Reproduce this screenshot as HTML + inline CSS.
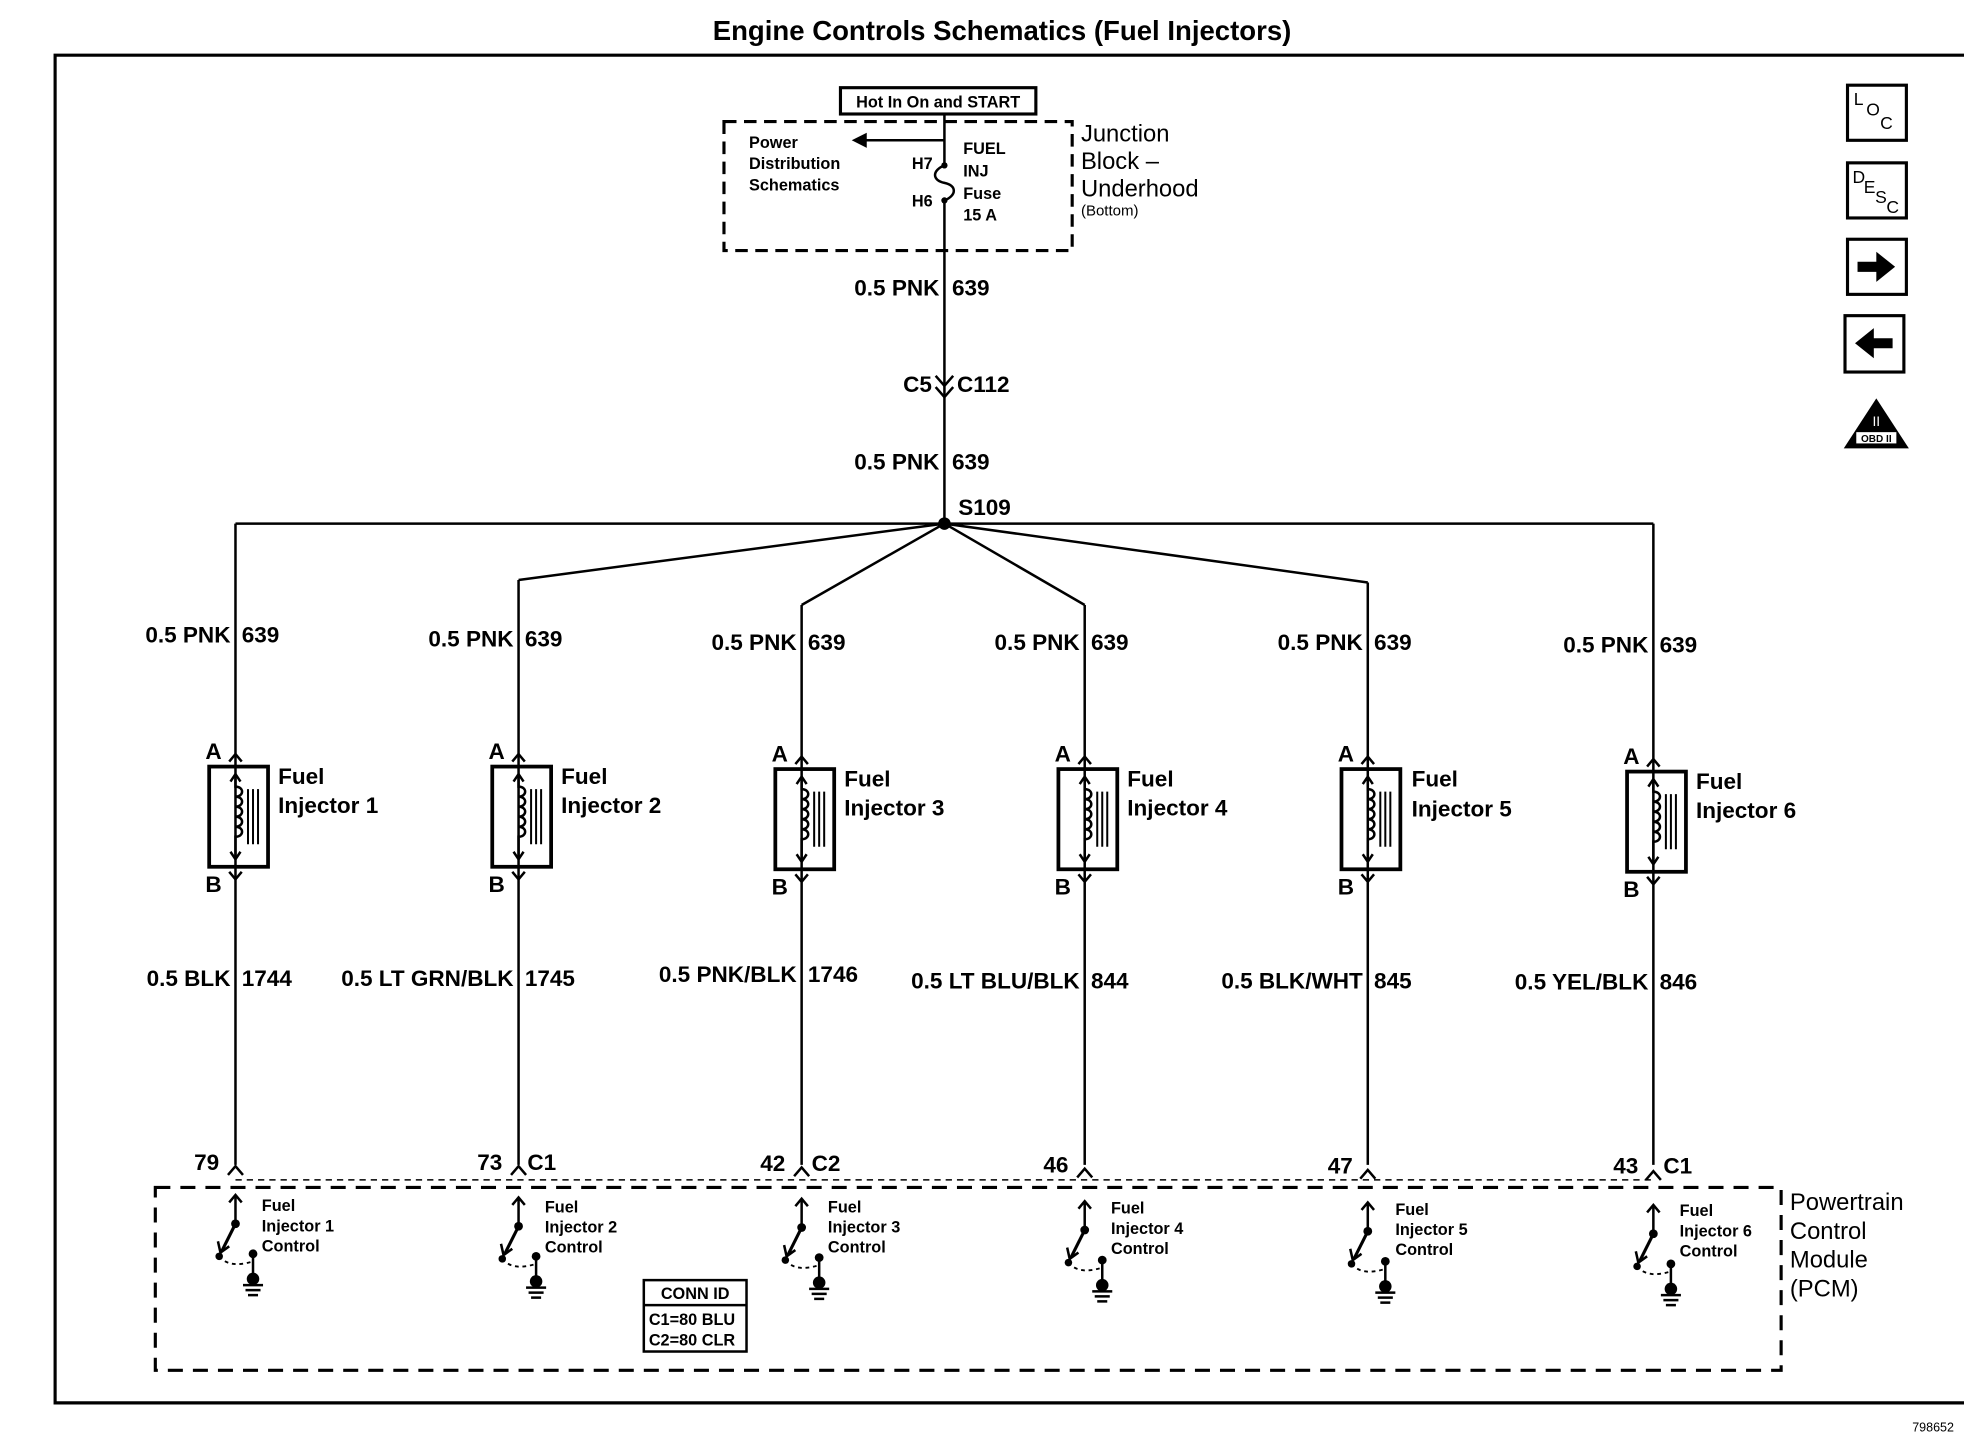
<!DOCTYPE html>
<html><head><meta charset="utf-8"><style>
html,body{margin:0;padding:0;background:#fff}
svg{display:block}
text{font-family:"Liberation Sans",Arial,sans-serif;fill:#000}
</style></head><body>
<svg width="1964" height="1456" viewBox="0 0 1568 1162.4" xmlns="http://www.w3.org/2000/svg">
<defs>
<g id="inj">
  <rect x="-21" y="0" width="47" height="80" fill="none" stroke="#000" stroke-width="3"/>
  <path d="M0,-10 V80 M0,80 V90" stroke="#000" stroke-width="2" fill="none"/>
  <path d="M-5,-4 L0,-10 L5,-4 M-5,84 L0,90 L5,84" stroke="#000" stroke-width="2" fill="none"/>
  <path d="M0,8 V16 c7,0 7,8 0,8 c7,0 7,8 0,8 c7,0 7,8 0,8 c7,0 7,8 0,8 c7,0 7,8 0,8 V72" stroke="#000" stroke-width="2" fill="none"/>
  <path d="M-4,12 L0,6 L4,12 M-4,68 L0,74 L4,68" stroke="#000" stroke-width="2" fill="none"/>
  <path d="M10,18 V62 M14,18 V62 M18,18 V62" stroke="#000" stroke-width="1.6"/>
</g>
<g id="sw">
  <path d="M-5,5 L0,-1 L5,5 M0,-1 V22" stroke="#000" stroke-width="2" fill="none"/>
  <circle cx="0" cy="22" r="3.5"/>
  <path d="M0,22 L-11,44" stroke="#000" stroke-width="2.5"/>
  <path d="M-14,36 L-12,45 L-5,40" stroke="#000" stroke-width="2" fill="none"/>
  <circle cx="-13" cy="48" r="3"/>
  <path d="M-13,48 Q-5,58 14,52" stroke="#000" stroke-width="1.5" stroke-dasharray="3,3" fill="none"/>
  <circle cx="14" cy="46" r="3.5"/>
  <path d="M14,46 V68" stroke="#000" stroke-width="2"/>
  <circle cx="14" cy="66" r="5"/>
  <path d="M6,71 H22 M8,75 H20 M10,79 H18" stroke="#000" stroke-width="2"/>
</g>
</defs>
<text x="800" y="32" font-size="22" font-weight="bold" text-anchor="middle">Engine Controls Schematics (Fuel Injectors)</text>
<path d="M1568,44 H44 V1120 H1568" fill="none" stroke="#000" stroke-width="2.5"/>
<text x="1560" y="1143" font-size="10" text-anchor="end">798652</text>

<!-- junction block -->
<rect x="671" y="70" width="156" height="21" fill="none" stroke="#000" stroke-width="2.5"/>
<text x="749" y="86" font-size="13" text-anchor="middle" font-weight="bold">Hot In On and START</text>
<rect x="578" y="97" width="278" height="103" fill="none" stroke="#000" stroke-width="2.5" stroke-dasharray="10,6"/>
<text font-size="13" font-weight="bold"><tspan x="598" y="118">Power</tspan><tspan x="598" y="135">Distribution</tspan><tspan x="598" y="152">Schematics</tspan></text>
<path d="M754,112 H690" stroke="#000" stroke-width="2"/>
<path d="M692,106 L680,112 L692,118 Z"/>
<text x="728" y="135" font-size="13" font-weight="bold">H7</text>
<text x="728" y="165" font-size="13" font-weight="bold">H6</text>
<text font-size="13" font-weight="bold"><tspan x="769" y="123">FUEL</tspan><tspan x="769" y="141">INJ</tspan><tspan x="769" y="159">Fuse</tspan><tspan x="769" y="176">15 A</tspan></text>
<path d="M754,91 V132 c-10,4 -10,12 0,14 c10,2 10,10 0,14 V418" stroke="#000" stroke-width="2" fill="none"/>
<circle cx="754" cy="132" r="2.5"/><circle cx="754" cy="160" r="2.5"/>
<text font-size="19"><tspan x="863" y="113">Junction</tspan><tspan x="863" y="135">Block –</tspan><tspan x="863" y="157">Underhood</tspan></text>
<text x="863" y="172" font-size="12">(Bottom)</text>

<text x="750" y="236" font-size="18" text-anchor="end" font-weight="bold">0.5 PNK</text><text x="760" y="236" font-size="18" font-weight="bold">639</text>
<path d="M747,300 L754,308 L761,300 M747,309 L754,317 L761,309" stroke="#000" stroke-width="2" fill="none"/>
<text x="744" y="313" font-size="18" text-anchor="end" font-weight="bold">C5</text><text x="764" y="313" font-size="18" font-weight="bold">C112</text>
<text x="750" y="375" font-size="18" text-anchor="end" font-weight="bold">0.5 PNK</text><text x="760" y="375" font-size="18" font-weight="bold">639</text>
<circle cx="754" cy="418" r="5"/>
<text x="765" y="411" font-size="18" font-weight="bold">S109</text>
<path d="M188,418 H1320 M754,418 L414,463 M754,418 L640,483 M754,418 L866,483 M754,418 L1092,465" stroke="#000" stroke-width="2" fill="none"/>

<g stroke="#000" stroke-width="2" fill="none">
<path d="M188,418 V930 M414,463 V930 M640,483 V930 M866,483 V930 M1092,465 V930 M1320,418 V930"/>
</g>
<g font-size="18" font-weight="bold">
<text x="184" y="513" text-anchor="end">0.5 PNK</text><text x="193" y="513">639</text>
<text x="410" y="516" text-anchor="end">0.5 PNK</text><text x="419" y="516">639</text>
<text x="636" y="519" text-anchor="end">0.5 PNK</text><text x="645" y="519">639</text>
<text x="862" y="519" text-anchor="end">0.5 PNK</text><text x="871" y="519">639</text>
<text x="1088" y="519" text-anchor="end">0.5 PNK</text><text x="1097" y="519">639</text>
<text x="1316" y="521" text-anchor="end">0.5 PNK</text><text x="1325" y="521">639</text>
</g>

<g fill="#fff">
<rect x="166" y="602" width="48" height="100"/><rect x="392" y="602" width="48" height="100"/><rect x="618" y="604" width="48" height="100"/><rect x="844" y="604" width="48" height="100"/><rect x="1070" y="604" width="48" height="100"/><rect x="1298" y="606" width="48" height="100"/>
</g>
<use href="#inj" x="188" y="612"/><use href="#inj" x="414" y="612"/><use href="#inj" x="640" y="614"/><use href="#inj" x="866" y="614"/><use href="#inj" x="1092" y="614"/><use href="#inj" x="1320" y="616"/>
<g font-size="18" font-weight="bold">
<text x="164" y="606">A</text><text x="164" y="712">B</text><text x="222" y="626">Fuel</text><text x="222" y="649">Injector 1</text>
<text x="390" y="606">A</text><text x="390" y="712">B</text><text x="448" y="626">Fuel</text><text x="448" y="649">Injector 2</text>
<text x="616" y="608">A</text><text x="616" y="714">B</text><text x="674" y="628">Fuel</text><text x="674" y="651">Injector 3</text>
<text x="842" y="608">A</text><text x="842" y="714">B</text><text x="900" y="628">Fuel</text><text x="900" y="651">Injector 4</text>
<text x="1068" y="608">A</text><text x="1068" y="714">B</text><text x="1127" y="628">Fuel</text><text x="1127" y="652">Injector 5</text>
<text x="1296" y="610">A</text><text x="1296" y="716">B</text><text x="1354" y="630">Fuel</text><text x="1354" y="653">Injector 6</text>
</g>
<g font-size="18" font-weight="bold">
<text x="184" y="787" text-anchor="end">0.5 BLK</text><text x="193" y="787">1744</text>
<text x="410" y="787" text-anchor="end">0.5 LT GRN/BLK</text><text x="419" y="787">1745</text>
<text x="636" y="784" text-anchor="end">0.5 PNK/BLK</text><text x="645" y="784">1746</text>
<text x="862" y="789" text-anchor="end">0.5 LT BLU/BLK</text><text x="871" y="789">844</text>
<text x="1088" y="789" text-anchor="end">0.5 BLK/WHT</text><text x="1097" y="789">845</text>
<text x="1316" y="790" text-anchor="end">0.5 YEL/BLK</text><text x="1325" y="790">846</text>
<text x="175" y="934" text-anchor="end">79</text>
<text x="401" y="934" text-anchor="end">73</text><text x="421" y="934">C1</text>
<text x="627" y="935" text-anchor="end">42</text><text x="648" y="935">C2</text>
<text x="853" y="936" text-anchor="end">46</text>
<text x="1080" y="937" text-anchor="end">47</text>
<text x="1308" y="937" text-anchor="end">43</text><text x="1328" y="937">C1</text>
</g>
<g stroke="#000" stroke-width="2" fill="none">
<path d="M182,938 L188,931 L194,938 M408,938 L414,931 L420,938 M634,939 L640,932 L646,939 M860,940 L866,933 L872,940 M1086,941 L1092,934 L1098,941 M1314,942 L1320,935 L1326,942"/>
</g>
<path d="M188,942 H1320" stroke="#000" stroke-width="1.2" stroke-dasharray="5,4"/>
<rect x="124" y="948" width="1298" height="146" fill="none" stroke="#000" stroke-width="2.5" stroke-dasharray="12,8"/>
<use href="#sw" x="188" y="955"/><use href="#sw" x="414" y="957"/><use href="#sw" x="640" y="958"/><use href="#sw" x="866" y="960"/><use href="#sw" x="1092" y="961"/><use href="#sw" x="1320" y="963"/>
<g font-size="13" font-weight="bold">
<text x="209" y="967">Fuel</text><text x="209" y="983">Injector 1</text><text x="209" y="999">Control</text>
<text x="435" y="968">Fuel</text><text x="435" y="984">Injector 2</text><text x="435" y="1000">Control</text>
<text x="661" y="968">Fuel</text><text x="661" y="984">Injector 3</text><text x="661" y="1000">Control</text>
<text x="887" y="969">Fuel</text><text x="887" y="985">Injector 4</text><text x="887" y="1001">Control</text>
<text x="1114" y="970">Fuel</text><text x="1114" y="986">Injector 5</text><text x="1114" y="1002">Control</text>
<text x="1341" y="971">Fuel</text><text x="1341" y="987">Injector 6</text><text x="1341" y="1003">Control</text>
</g>
<rect x="514" y="1022" width="82" height="57" fill="#fff" stroke="#000" stroke-width="2"/>
<path d="M514,1042 H596" stroke="#000" stroke-width="2"/>
<text x="555" y="1037" font-size="13" text-anchor="middle" font-weight="bold">CONN ID</text>
<text x="518" y="1058" font-size="13" font-weight="bold">C1=80 BLU</text>
<text x="518" y="1074" font-size="13" font-weight="bold">C2=80 CLR</text>
<text font-size="19"><tspan x="1429" y="966">Powertrain</tspan><tspan x="1429" y="989">Control</tspan><tspan x="1429" y="1012">Module</tspan><tspan x="1429" y="1035">(PCM)</tspan></text>

<g stroke="#000" stroke-width="2.5" fill="none">
<rect x="1475" y="68" width="47" height="44"/><rect x="1475" y="130" width="47" height="44"/><rect x="1475" y="191" width="47" height="44"/><rect x="1473" y="252" width="47" height="45"/>
</g>
<text font-size="14"><tspan x="1480" y="84">L</tspan><tspan x="1490" y="92">O</tspan><tspan x="1501" y="103">C</tspan></text>
<text font-size="14"><tspan x="1479" y="146">D</tspan><tspan x="1488" y="154">E</tspan><tspan x="1497" y="162">S</tspan><tspan x="1506" y="170">C</tspan></text>
<path d="M1483,209 H1498 V201 L1513,213 L1498,225 V217 H1483 Z"/>
<path d="M1511,270 H1496 V262 L1481,274 L1496,286 V278 H1511 Z"/>
<path d="M1498,318 L1524,358 H1472 Z"/>
<rect x="1482" y="345" width="32" height="9" fill="#fff"/>
<text x="1498" y="353" font-size="8" text-anchor="middle" font-weight="bold">OBD II</text>
<text x="1498" y="340" font-size="11" text-anchor="middle" style="fill:#fff">II</text>
</svg>
</body></html>
